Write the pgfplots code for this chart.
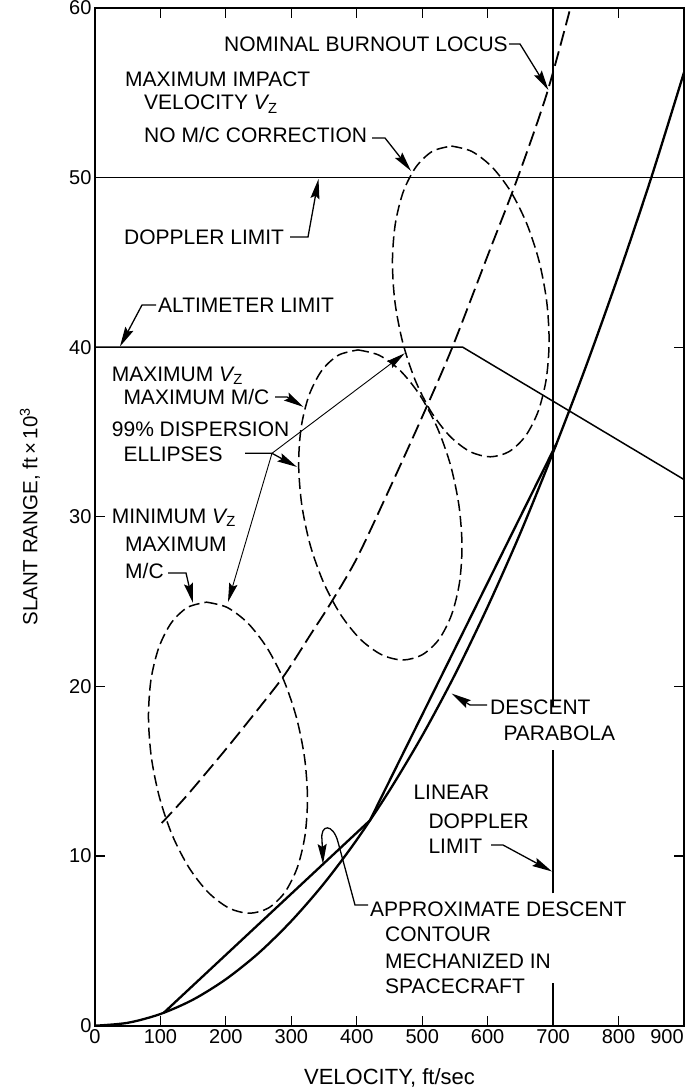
\documentclass[border=0pt]{standalone}
\usepackage{fontspec}
\setmainfont{Liberation Sans}
\usepackage{pgfplots}
\pgfplotsset{compat=1.18}
\usetikzlibrary{arrows.meta}
\newcommand{\Vz}{\textit{V}\textsubscript{\kern-1.5pt Z}}
\begin{document}
\begin{tikzpicture}
\useasboundingbox (-95pt,-65.3pt) rectangle (601pt,1025.7pt);
\begin{axis}[
  at={(0pt,0pt)}, anchor=south west,
  scale only axis, width=589pt, height=1017.7pt,
  xmin=0, xmax=900, ymin=0, ymax=60,
  xtick={0,100,...,800}, extra x ticks={900},
  extra x tick style={xticklabel style={xshift=-17pt}},
  ytick={0,10,...,60},
  tick align=inside, major tick length=10pt,
  tick style={line width=1.2pt, black},
  axis line style={line width=1.6pt},
  tick label style={font=\fontsize{20}{21}\selectfont},
  /pgf/number format/assume math mode=true,
  /pgf/number format/1000 sep={},
  xlabel={VELOCITY, ft/sec},
  ylabel={SLANT RANGE, ft\,×\,10\textsuperscript{3}},
  xlabel style={font=\fontsize{22}{24}\selectfont, at={(axis description cs:0.5,-0.0514)}, anchor=center},
  ylabel style={font=\fontsize{20.5}{24}\selectfont, at={(axis description cs:-0.1104,0.5)}, anchor=center},
  unbounded coords=jump,
]
% Doppler limit
\addplot[line width=1.5pt] coordinates {(0,50) (900,50)};
% Altimeter limit
\addplot[line width=1.5pt] coordinates {(0,40) (562,40) (900,32.2)};
% Linear Doppler limit (broken where labels sit)
\addplot[line width=1.4pt] coordinates {(700,0) (700,2.5) (700,nan) (700,7.8) (700,16.26) (700,nan) (700,18.8) (700,60)};
% Descent parabola
\addplot[line width=2.3pt, smooth] coordinates {
(0,0) (50,0.17) (100,0.69) (150,1.54) (200,2.74) (250,4.28) (300,6.17) (350,8.39)
(400,10.96) (450,13.87) (500,17.1) (550,20.7) (600,24.7) (650,29.05) (700,33.8)
(750,38.85) (800,44.25) (850,50.0) (900,56.2)};
% Approximate descent contour
\addplot[line width=2.3pt] coordinates {(105,0.76) (420,12.1) (705,34.3)};
% Nominal burnout locus
\addplot[line width=1.8pt, dash pattern=on 15pt off 6pt, smooth] coordinates {
(102,11.95) (140,13.55) (200,16.3) (250,18.7) (290,20.7) (330,23.1) (360,24.9)
(400,27.55) (450,31.65) (500,35.9) (545,39.9) (600,45.4) (645,49.9) (690,54.9) (725,59.8)};
% Ellipse A (minimum Vz, maximum M/C)
\addplot[line width=1.5pt, dash pattern=on 11pt off 5pt, smooth] coordinates {
(170.5,24.97) (201.9,24.66) (233.4,23.74) (262.8,22.28) (288.2,20.39) (307.8,18.17)
(320.2,15.8) (324.7,13.43) (320.9,11.22) (309.1,9.32) (290.0,7.86) (265.1,6.94)
(235.9,6.63) (204.5,6.94) (173.0,7.86) (143.6,9.32) (118.2,11.22) (98.7,13.43)
(86.2,15.8) (81.7,18.17) (85.5,20.39) (97.4,22.28) (116.4,23.74) (141.3,24.66) (170.5,24.97)};
% Ellipse B (maximum Vz, maximum M/C)
\addplot[line width=1.5pt, dash pattern=on 11pt off 5pt, smooth] coordinates {
(401.8,39.84) (434.0,39.53) (466.4,38.62) (496.7,37.16) (522.8,35.27) (543.1,33.07)
(556.0,30.7) (560.8,28.33) (557.0,26.13) (545.0,24.24) (525.6,22.78) (500.1,21.87)
(470.2,21.56) (438.0,21.87) (405.6,22.78) (375.3,24.24) (349.2,26.13) (328.9,28.33)
(316.0,30.7) (311.2,33.07) (315.0,35.27) (327.0,37.16) (346.4,38.62) (371.9,39.53) (401.8,39.84)};
% Ellipse C (no M/C correction)
\addplot[line width=1.5pt, dash pattern=on 11pt off 5pt, smooth] coordinates {
(544.5,51.86) (575.5,51.55) (606.5,50.63) (635.2,49.18) (659.8,47.28) (678.6,45.07)
(690.2,42.7) (693.9,40.33) (689.5,38.12) (677.2,36.22) (657.9,34.77) (632.9,33.85)
(603.9,33.54) (572.9,33.85) (541.9,34.77) (513.2,36.22) (488.6,38.12) (469.9,40.33)
(458.2,42.7) (454.5,45.07) (458.9,47.28) (471.2,49.18) (490.5,50.63) (515.5,51.55) (544.5,51.86)};
\end{axis}
\begin{scope}[shift={(-95pt,1025.7pt)}, x=1pt, y=-1pt,
  every node/.style={inner sep=0pt, anchor=base west, font=\fontsize{21}{25}\selectfont},
  lead/.style={line width=1.3pt, -{Stealth[length=20pt,width=9pt,inset=3pt]}},
  thinlead/.style={line width=0.9pt, -{Stealth[length=19pt,width=8.5pt,inset=3pt]}}]
\node at (224,51.7) {NOMINAL BURNOUT LOCUS};
\node at (125,86.7) {MAXIMUM IMPACT};
\node at (144,110) {VELOCITY \Vz};
\node at (144,142.7) {NO M/C CORRECTION};
\node at (124,244.5) {DOPPLER LIMIT};
\node at (158,313) {ALTIMETER LIMIT};
\node at (111.7,381.7) {MAXIMUM \Vz};
\node at (123.3,405) {MAXIMUM M/C};
\node at (111.7,436.7) {99\% DISPERSION};
\node at (123.3,461.7) {ELLIPSES};
\node at (111.7,523.3) {MINIMUM \Vz};
\node at (125,551.7) {MAXIMUM};
\node at (125,578.3) {M/C};
\node at (490,715) {DESCENT};
\node at (503.3,740.5) {PARABOLA};
\node at (413.3,800) {LINEAR};
\node at (428.3,828.3) {DOPPLER};
\node at (428.3,853.3) {LIMIT};
\node at (370,916.7) {APPROXIMATE DESCENT};
\node at (385,941.7) {CONTOUR};
\node at (385,968.3) {MECHANIZED IN};
\node at (385,993.3) {SPACECRAFT};
% leaders
\draw[lead] (509,44) -- (520,44) -- (548.4,90);
\draw[lead] (372,138) -- (385,138) -- (411,171);
\draw[lead] (290,237) -- (308,237) -- (318.5,179);
\draw[lead] (156,305) -- (142,305) -- (120,346.5);
\draw[lead] (275,397) -- (287,397) -- (303.5,407);
\draw[lead] (245,453.3) -- (272,453.3) -- (297,467);
\draw[thinlead] (272,453.3) -- (404.7,353.3);
\draw[thinlead] (272,453.3) -- (228,602);
\draw[lead] (168,573) -- (186,573) -- (193,603);
\draw[lead] (487,705) -- (470,705) -- (451.5,693.5);
\draw[lead] (491,845) -- (503,845) -- (552,871.5);
\draw[lead] (368,905) -- (355,905) -- (338,842) .. controls (333,823) and (320,824) .. (322,840) -- (323,864);
\end{scope}
\end{tikzpicture}
\end{document}
